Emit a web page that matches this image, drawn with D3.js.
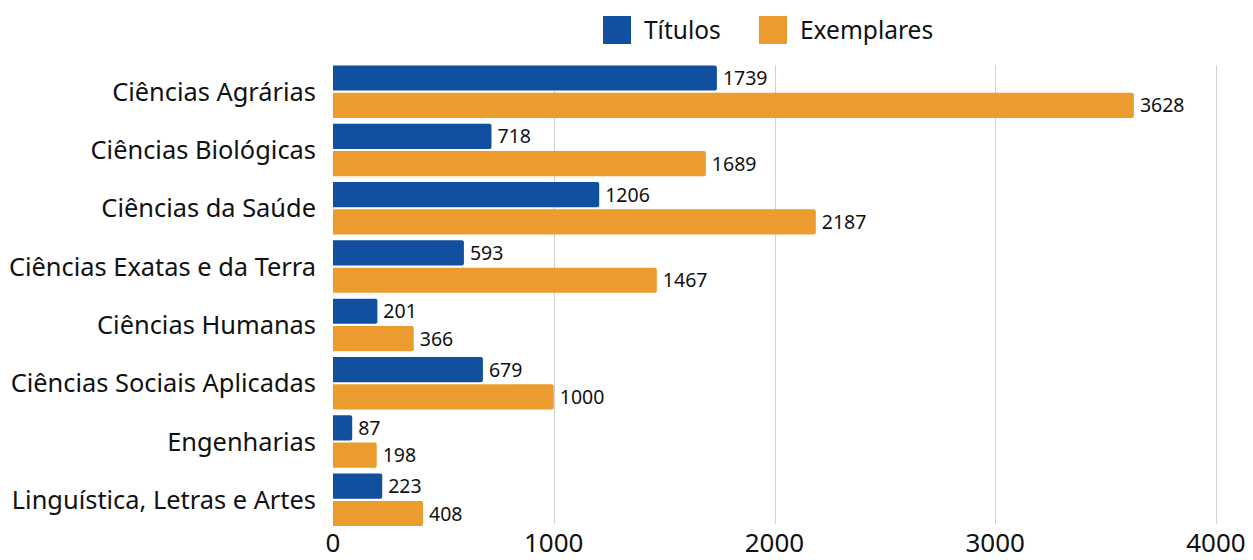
<!DOCTYPE html>
<html lang="pt">
    <head>
        <meta charset="utf-8">
        <title>Titulos e exemplares</title>
        <script type="text/javascript" src="https://d3js.org/d3.v7.min.js"></script>
        <style type="text/css">
            body{ margin: 0; background: #fff; }
            text{ font-family: "Noto Sans", sans-serif; fill: #111; }
            .grid line{ stroke: #d0d0d0; stroke-width: 1px; }
        </style>
    </head>
    <body>
        <svg id="chart" width="1253" height="560"></svg>
        <script type="text/javascript">
        //data
        const categories = ["Ciências Agrárias", "Ciências Biológicas", "Ciências da Saúde",
            "Ciências Exatas e da Terra", "Ciências Humanas", "Ciências Sociais Aplicadas",
            "Engenharias", "Linguística, Letras e Artes"];
        const titulos = [1739, 718, 1206, 593, 201, 679, 87, 223];
        const exemplares = [3628, 1689, 2187, 1467, 366, 1000, 198, 408];
        const seriesNames = ["Títulos", "Exemplares"];
        const xTicks = [0, 1000, 2000, 3000, 4000];

        const colors = ["#10509e", "#ec9b2f"];
        const svg = d3.select("#chart");

        const x = d3.scaleLinear().domain([0, 4000]).range([333, 1216]);
        const y = d3.scaleBand().domain(categories).range([62.5, 529])
                    .paddingInner(0.1).paddingOuter(0.05);
        const ySub = d3.scaleBand().domain([0, 1]).range([0, y.bandwidth()]).paddingInner(0.08);

        //grid
        svg.append("g").attr("class", "grid")
            .selectAll("line")
            .data(xTicks.slice(1))
            .join("line")
            .attr("x1", d => Math.round(x(d)) + 0.5)
            .attr("x2", d => Math.round(x(d)) + 0.5)
            .attr("y1", 65)
            .attr("y2", 524);

        //bars
        const rows = categories.map((c, i) => ({cat: c, vals: [titulos[i], exemplares[i]]}));
        const groups = svg.append("g").selectAll("g")
            .data(rows)
            .join("g")
            .attr("transform", d => `translate(0,${y(d.cat)})`);

        groups.selectAll("path")
            .data(d => d.vals.map((v, k) => ({v, k})))
            .join("path")
            .attr("fill", d => colors[d.k])
            .attr("d", d => {
                const x0 = x(0), x1 = x(d.v), y0 = ySub(d.k), h = ySub.bandwidth(), r = 2;
                return `M${x0},${y0}H${x1 - r}Q${x1},${y0} ${x1},${y0 + r}V${y0 + h - r}Q${x1},${y0 + h} ${x1 - r},${y0 + h}H${x0}Z`;
            });

        groups.selectAll("text")
            .data(d => d.vals.map((v, k) => ({v, k})))
            .join("text")
            .attr("x", d => x(d.v) + 6)
            .attr("y", d => ySub(d.k) + ySub.bandwidth() / 2)
            .attr("dy", "0.36em")
            .style("font-size", "19.5px")
            .text(d => d.v);

        //category labels
        svg.append("g").selectAll("text")
            .data(categories)
            .join("text")
            .attr("x", 316)
            .attr("y", d => y(d) + y.bandwidth() / 2)
            .attr("dy", "0.36em")
            .attr("text-anchor", "end")
            .style("font-size", "25.4px")
            .text(d => d);

        //x axis labels
        svg.append("g").selectAll("text")
            .data(xTicks)
            .join("text")
            .attr("x", d => x(d))
            .attr("y", 552)
            .attr("text-anchor", "middle")
            .style("font-size", "26px")
            .text(d => d);

        //legend
        const legend = svg.append("g");
        const legX = [603, 759];
        seriesNames.forEach((name, k) => {
            legend.append("rect")
                .attr("x", legX[k]).attr("y", 16)
                .attr("width", 28).attr("height", 28)
                .attr("fill", colors[k]);
            legend.append("text")
                .attr("x", legX[k] + 41).attr("y", 30)
                .attr("dy", "0.36em")
                .style("font-size", "24.5px")
                .text(name);
        });
        </script>
    </body>
</html>
